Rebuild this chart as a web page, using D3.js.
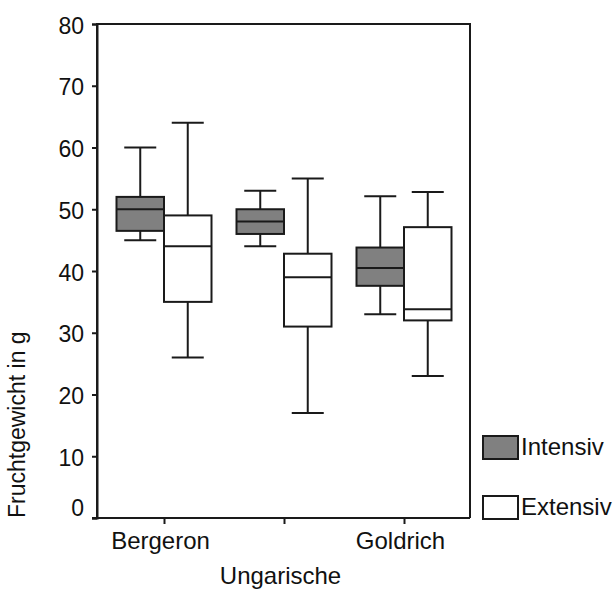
<!DOCTYPE html>
<html>
<head>
<meta charset="utf-8">
<script src="https://cdn.jsdelivr.net/npm/d3@7"></script>
<style>
  body { margin: 0; background: #fff; }
  text { font-family: "Liberation Sans", Arial, sans-serif; fill: #111; }
</style>
</head>
<body>
<div id="chart"></div>
<script>
// categories and box statistics (min, q1, median, q3, max)
const cultivars = ["Bergeron", "Ungarische", "Goldrich"];
const treatments = ["Intensiv", "Extensiv"];
const intensiv = [
  [45, 46.5, 50, 52, 60],
  [44, 46, 48, 50, 53],
  [33, 37.6, 40.5, 43.8, 52.1]
];
const extensiv = [
  [26, 35, 44, 49, 64],
  [17, 31, 39, 42.8, 55],
  [23, 32, 33.8, 47.1, 52.8]
];
const yTicks = [0, 10, 20, 30, 40, 50, 60, 70, 80];

const width = 614, height = 593;
const plotL = 97, plotR = 470, plotT = 24, plotB = 518;
const ink = "#1a1a1a";

const svg = d3.select("#chart").append("svg")
  .attr("width", width).attr("height", height);

const y = d3.scaleLinear().domain([0, 80]).range([plotB, plotT]);
const x = d3.scalePoint().domain(cultivars).range([plotL + 67, plotR - 66]);
const fill = d3.scaleOrdinal().domain(treatments).range(["#808080", "#ffffff"]);
const boxW = 47.5, capW = 32;

// frame
svg.append("path")
  .attr("d", `M${plotL},${plotB}V${plotT}H${plotR}V${plotB}`)
  .attr("fill", "none").attr("stroke", ink).attr("stroke-width", 2);

// y axis
const yAxis = svg.append("g")
  .attr("transform", `translate(${plotL},0)`)
  .call(d3.axisLeft(y).tickValues(yTicks).tickSize(5).tickPadding(8));
yAxis.select(".domain").attr("stroke", ink).attr("stroke-width", 2);
yAxis.selectAll(".tick line").attr("stroke", ink).attr("stroke-width", 2);
yAxis.selectAll(".tick text")
  .attr("font-size", 23).attr("fill", "#111")
  .attr("font-family", "Liberation Sans, Arial, sans-serif")
  .attr("dy", d => d === 0 ? "-0.1em" : "0.4em");

// x axis
const xAxis = svg.append("g")
  .attr("transform", `translate(0,${plotB})`)
  .call(d3.axisBottom(x).tickSize(6).tickSizeOuter(0).tickPadding(4));
xAxis.select(".domain").attr("d", `M${plotL - 5},0H${plotR}`)
  .attr("stroke", ink).attr("stroke-width", 2);
xAxis.selectAll(".tick line").attr("stroke", ink).attr("stroke-width", 2);
xAxis.selectAll(".tick text")
  .attr("font-size", 24).attr("fill", "#111")
  .attr("font-family", "Liberation Sans, Arial, sans-serif")
  .attr("dx", -4)
  .attr("y", (d, i) => i === 1 ? 49 : 14);

// y label
svg.append("text")
  .attr("transform", `translate(25,${plotB}) rotate(-90)`)
  .attr("font-size", 23)
  .text("Fruchtgewicht in g");

// boxes
const series = [intensiv, extensiv];
treatments.forEach((t, ti) => {
  const g = svg.append("g").attr("class", "series-" + t);
  cultivars.forEach((c, ci) => {
    const [mn, q1, md, q3, mx] = series[ti][ci];
    const x0 = x(c) + (ti === 0 ? -boxW : 0);
    const cx = x0 + boxW / 2;
    const b = g.append("g").attr("stroke", ink).attr("stroke-width", 2);
    b.append("line").attr("x1", cx).attr("x2", cx).attr("y1", y(mx)).attr("y2", y(q3));
    b.append("line").attr("x1", cx).attr("x2", cx).attr("y1", y(q1)).attr("y2", y(mn));
    b.append("line").attr("x1", cx - capW / 2).attr("x2", cx + capW / 2).attr("y1", y(mx)).attr("y2", y(mx));
    b.append("line").attr("x1", cx - capW / 2).attr("x2", cx + capW / 2).attr("y1", y(mn)).attr("y2", y(mn));
    b.append("rect").attr("x", x0).attr("width", boxW)
      .attr("y", y(q3)).attr("height", y(q1) - y(q3))
      .attr("fill", fill(t));
    b.append("line").attr("x1", x0).attr("x2", x0 + boxW).attr("y1", y(md)).attr("y2", y(md));
  });
});

// legend
const legend = svg.append("g");
const legendY = [436, 496];
treatments.forEach((t, i) => {
  legend.append("rect")
    .attr("x", 483).attr("y", legendY[i]).attr("width", 35).attr("height", 23)
    .attr("fill", fill(t)).attr("stroke", ink).attr("stroke-width", 2);
  legend.append("text")
    .attr("x", 521).attr("y", legendY[i] + 19)
    .attr("font-size", 24)
    .text(t);
});
</script>
</body>
</html>
